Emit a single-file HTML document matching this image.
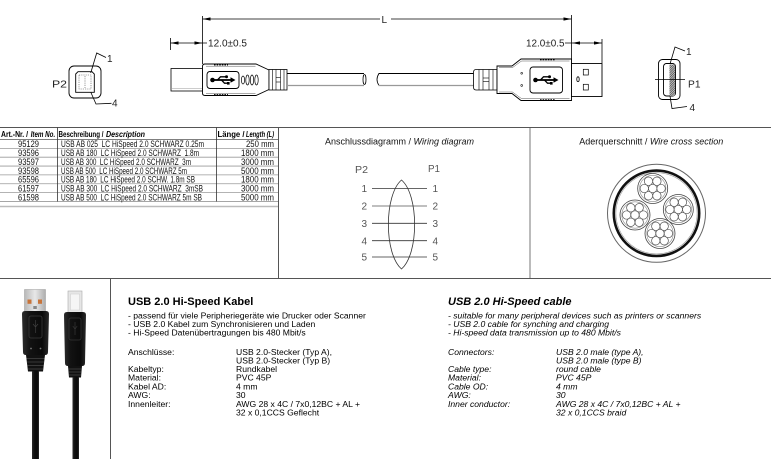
<!DOCTYPE html>
<html><head><meta charset="utf-8"><title>USB 2.0 Hi-Speed Kabel</title>
<style>
html,body{margin:0;padding:0;background:#fff;width:771px;height:459px;overflow:hidden}
svg{display:block}
text{font-family:"Liberation Sans",Arial,sans-serif;white-space:pre}
.b{font-weight:bold}
.i{font-style:italic}
</style></head><body>
<svg xmlns="http://www.w3.org/2000/svg" width="771" height="459" viewBox="0 0 771 459">
<defs>
 <g id="usb">
  <rect x="-9" y="-0.9" width="18" height="1.8"/>
  <circle cx="-10" cy="0" r="2.3"/>
  <path d="M13,0 L8,-2.8 L8,2.8Z"/>
  <path d="M-5,0 L-2,-3.2 L3,-3.2" fill="none" stroke="#000" stroke-width="1.3"/>
  <circle cx="4" cy="-3.2" r="1.5"/>
  <path d="M-1,0 L2,3.2 L5,3.2" fill="none" stroke="#000" stroke-width="1.3"/>
  <rect x="4.5" y="2" width="2.6" height="2.6"/>
 </g>
 <g id="bundle">
  <circle r="15" fill="#fff" stroke="#444" stroke-width="0.8"/>
  <circle r="13.2" fill="none" stroke="#888" stroke-width="0.6"/>
  <g fill="#fff" stroke="#555" stroke-width="0.7">
   <circle cx="0" cy="0" r="4.2"/>
   <circle cx="8.4" cy="0" r="4.2"/>
   <circle cx="-8.4" cy="0" r="4.2"/>
   <circle cx="4.2" cy="7.27" r="4.2"/>
   <circle cx="-4.2" cy="7.27" r="4.2"/>
   <circle cx="4.2" cy="-7.27" r="4.2"/>
   <circle cx="-4.2" cy="-7.27" r="4.2"/>
  </g>
 </g>
 <pattern id="hatch" width="1.6" height="1.6" patternUnits="userSpaceOnUse" patternTransform="rotate(45)">
  <rect width="1.6" height="1.6" fill="#bbb"/>
  <line x1="0" y1="0" x2="0" y2="1.6" stroke="#222" stroke-width="0.9"/>
 </pattern>
 <linearGradient id="blk" x1="0" x2="1" y1="0" y2="0">
  <stop offset="0" stop-color="#2c2c2c"/><stop offset="0.3" stop-color="#121212"/>
  <stop offset="0.75" stop-color="#0a0a0a"/><stop offset="1" stop-color="#2a2a2a"/>
 </linearGradient>
 <linearGradient id="met" x1="0" x2="1" y1="0" y2="0">
  <stop offset="0" stop-color="#b8b8b8"/><stop offset="0.5" stop-color="#e8e8e8"/><stop offset="1" stop-color="#aeaeae"/>
 </linearGradient>
</defs>

<!-- ===== Top technical drawing ===== -->
<g stroke="#000" stroke-width="0.8" fill="none">
 <line x1="202.5" y1="16" x2="202.5" y2="64"/>
 <line x1="571.5" y1="15" x2="571.5" y2="63"/>
 <line x1="202.5" y1="19" x2="380" y2="19"/>
 <line x1="391" y1="19" x2="571.5" y2="19"/>
 <line x1="170.5" y1="38" x2="170.5" y2="50"/>
 <line x1="170.5" y1="43" x2="207" y2="43"/>
 <line x1="565" y1="43" x2="602" y2="43"/>
 <line x1="602" y1="39" x2="602" y2="63"/>
</g>
<g fill="#000">
 <path d="M202.5,19 l8,-1.6 v3.2z"/>
 <path d="M571.5,19 l-8,-1.6 v3.2z"/>
 <path d="M170.5,43 l8,-1.6 v3.2z"/>
 <path d="M202.5,43 l-8,-1.6 v3.2z"/>
 <path d="M572,43 l8,-1.6 v3.2z"/>
 <path d="M602,43 l-8,-1.6 v3.2z"/>
</g>
<g fill="#222">
 <text x="208" y="46.5" font-size="10" textLength="39" lengthAdjust="spacingAndGlyphs">12.0±0.5</text>
 <text x="526" y="46.5" font-size="10" textLength="38.5" lengthAdjust="spacingAndGlyphs">12.0±0.5</text>
 <text x="381.5" y="23" font-size="10">L</text>
 <text x="52" y="87.5" font-size="10" textLength="15" lengthAdjust="spacingAndGlyphs">P2</text>
 <text x="107" y="62" font-size="10">1</text>
 <text x="112" y="106.5" font-size="10">4</text>
 <text x="688" y="87.5" font-size="10" textLength="12.5" lengthAdjust="spacingAndGlyphs">P1</text>
 <text x="686" y="55" font-size="10">1</text>
 <text x="689.5" y="111" font-size="10">4</text>
</g>

<!-- P2 face -->
<g fill="none" stroke="#000" stroke-width="0.9">
 <rect x="69" y="66" width="32" height="32" rx="5" fill="#fff"/>
 <path d="M75.7,74 L78,71.7 L92,71.7 L94.3,74 L94.3,92.3 L75.7,92.3 Z"/>
 <rect x="79" y="75" width="12" height="14" stroke="#555" stroke-width="0.6" stroke-dasharray="1.2,1"/>
 <line x1="85" y1="76" x2="85" y2="88" stroke="#555" stroke-width="0.6" stroke-dasharray="1.2,1"/>
 <polyline points="90.7,73 96.7,53 106,57.5" stroke-width="0.8"/>
 <polyline points="90.7,92 96,104 111.5,103.3" stroke-width="0.8"/>
</g>

<!-- Left B connector -->
<rect x="171" y="68.5" width="31.5" height="22.5" fill="#fff" stroke="#000" stroke-width="0.8"/>
<line x1="171" y1="88.5" x2="202" y2="88.5" stroke="#999" stroke-width="0.6"/>
<path d="M202.5,66.5 Q202.5,64 205,64 L256,64 L269,70 L269,89.5 L256,95.5 L205,95.5 Q202.5,95.5 202.5,93 Z" fill="#fff" stroke="#000" stroke-width="0.9"/>
<path d="M206,66.2 L255.5,66.2 M206,93.3 L255.5,93.3" stroke="#555" stroke-width="0.5" fill="none"/>
<path d="M214,65 h14 M214,94.6 h14" stroke="#000" stroke-width="0.9" stroke-dasharray="1.6,1"/>
<rect x="207" y="71.5" width="32" height="17" rx="3" fill="#fff" stroke="#000" stroke-width="0.9"/>
<use href="#usb" transform="translate(222.5,80)"/>
<g fill="#fff" stroke="#000" stroke-width="0.7">
 <ellipse cx="243" cy="80" rx="1.6" ry="4"/>
 <ellipse cx="247.5" cy="80" rx="1.7" ry="5"/>
 <ellipse cx="252" cy="80" rx="1.7" ry="5"/>
 <ellipse cx="256.5" cy="80" rx="1.7" ry="5"/>
</g>
<rect x="269" y="69.5" width="18" height="20.5" fill="#fff" stroke="#000" stroke-width="0.8"/>
<g stroke="#000" stroke-width="0.6">
 <line x1="272.5" y1="69.5" x2="272.5" y2="90"/>
 <line x1="276" y1="69.5" x2="276" y2="90"/>
 <line x1="280.5" y1="69.5" x2="280.5" y2="90"/>
 <line x1="284" y1="69.5" x2="284" y2="90"/>
 <line x1="276" y1="77.5" x2="280.5" y2="77.5"/>
 <line x1="276" y1="82" x2="280.5" y2="82"/>
</g>
<line x1="287" y1="73.5" x2="364" y2="73.5" stroke="#000" stroke-width="0.9"/>
<line x1="287" y1="85.5" x2="364" y2="85.5" stroke="#999" stroke-width="1.3"/>
<ellipse cx="364.5" cy="79.5" rx="1.5" ry="5" fill="none" stroke="#000" stroke-width="0.8"/>
<path d="M379,73.5 Q375,79.5 379,85.5" fill="none" stroke="#000" stroke-width="0.8"/>
<line x1="378.5" y1="73.5" x2="473.5" y2="73.5" stroke="#000" stroke-width="0.9"/>
<line x1="378.5" y1="85.5" x2="473.5" y2="85.5" stroke="#999" stroke-width="1.3"/>

<!-- Right A connector -->
<path d="M476,69.5 L497,69.5 L497,90 L476,90 Q473.5,90 473.5,87 L473.5,72.5 Q473.5,69.5 476,69.5Z" fill="#fff" stroke="#000" stroke-width="0.8"/>
<g stroke="#000" stroke-width="0.6">
 <line x1="479" y1="69.5" x2="479" y2="90"/>
 <line x1="483" y1="69.5" x2="483" y2="90"/>
 <line x1="489" y1="69.5" x2="489" y2="90"/>
 <line x1="493" y1="69.5" x2="493" y2="90"/>
 <line x1="483" y1="78" x2="489" y2="78"/>
 <line x1="483" y1="81.5" x2="489" y2="81.5"/>
</g>
<path d="M497,66 L512,66 L521,59 L571.5,59 L571.5,100.5 L521,100.5 L512,93.5 L497,93.5 Z" fill="#fff" stroke="#000" stroke-width="0.9"/>
<path d="M499,67.6 L512.5,67.6 L521.5,61 L569.5,61 M499,92 L512.5,92 L521.5,98.6 L569.5,98.6" stroke="#555" stroke-width="0.5" fill="none"/>
<path d="M540,59.8 h15 M540,99.7 h15" stroke="#000" stroke-width="0.9" stroke-dasharray="1.6,1"/>
<circle cx="521.7" cy="73.3" r="0.9" fill="none" stroke="#000" stroke-width="0.6"/>
<circle cx="521.7" cy="85.5" r="0.9" fill="none" stroke="#000" stroke-width="0.6"/>
<rect x="530" y="67" width="32.5" height="26" rx="3" fill="#fff" stroke="#000" stroke-width="0.9"/>
<use href="#usb" transform="translate(545.5,80)"/>
<rect x="571.5" y="63.5" width="30.5" height="33" fill="#fff" stroke="#000" stroke-width="0.9"/>
<rect x="583.3" y="69.3" width="5" height="5.7" fill="#fff" stroke="#000" stroke-width="0.7"/>
<rect x="583.3" y="84.3" width="5" height="5.7" fill="#fff" stroke="#000" stroke-width="0.7"/>
<ellipse cx="578" cy="79.2" rx="1.2" ry="2.4" fill="#fff" stroke="#000" stroke-width="0.8"/>

<!-- P1 face -->
<rect x="658.5" y="59.5" width="21.5" height="40" rx="4" fill="#fff" stroke="#000" stroke-width="0.9"/>
<rect x="663.5" y="63.5" width="12" height="32.5" rx="3" fill="#fff" stroke="#000" stroke-width="0.9"/>
<rect x="669.5" y="64.5" width="5.5" height="31.5" fill="url(#hatch)"/>
<g stroke="#000" stroke-width="0.8" fill="none">
 <line x1="655" y1="79.5" x2="685" y2="79.5"/>
 <polyline points="670,64 675,47 685,51"/>
 <polyline points="670,96 672,108.5 687,106.5"/>
</g>

<!-- ===== Section frame lines ===== -->
<g stroke="#555" stroke-width="1">
 <line x1="0" y1="127.5" x2="771" y2="127.5"/>
 <line x1="0" y1="278.5" x2="771" y2="278.5"/>
 <line x1="278.5" y1="127.5" x2="278.5" y2="278.5"/>
 <line x1="110.5" y1="278.5" x2="110.5" y2="459"/>
</g>
<line x1="530" y1="128" x2="530" y2="278" stroke="#bbb" stroke-width="2"/>

<!-- ===== Table ===== -->
<g stroke="#9a9a9a" stroke-width="0.8">
 <line x1="0" y1="139.5" x2="278" y2="139.5" stroke="#555"/>
 <line x1="0" y1="148.35" x2="278" y2="148.35"/>
 <line x1="0" y1="157.2" x2="278" y2="157.2"/>
 <line x1="0" y1="166.05" x2="278" y2="166.05"/>
 <line x1="0" y1="174.9" x2="278" y2="174.9"/>
 <line x1="0" y1="183.75" x2="278" y2="183.75"/>
 <line x1="0" y1="192.6" x2="278" y2="192.6"/>
 <line x1="0" y1="201.45" x2="278" y2="201.45"/>
 <line x1="0" y1="206.5" x2="278" y2="206.5" stroke="#bbb" stroke-width="1.5"/>
</g>
<g stroke="#333" stroke-width="0.8">
 <line x1="57.5" y1="127.5" x2="57.5" y2="201.5"/>
 <line x1="216.5" y1="127.5" x2="216.5" y2="201.5"/>
</g>
<g fill="#000" font-size="8" class="b">
 <text x="1" y="137" textLength="27" lengthAdjust="spacingAndGlyphs">Art.-Nr. /</text>
 <text x="30.7" y="137" class="i" textLength="24.5" lengthAdjust="spacingAndGlyphs">Item No.</text>
 <text x="58.5" y="137" textLength="45" lengthAdjust="spacingAndGlyphs">Beschreibung /</text>
 <text x="106" y="137" class="i" textLength="39" lengthAdjust="spacingAndGlyphs">Description</text>
 <text x="217.5" y="137" textLength="27" lengthAdjust="spacingAndGlyphs">Länge /</text>
 <text x="246" y="137" class="i" textLength="28" lengthAdjust="spacingAndGlyphs">Length (L)</text>
</g>
<g fill="#111" font-size="8.8">
 <text x="18" y="147.2" textLength="21" lengthAdjust="spacingAndGlyphs">95129</text>
 <text x="18" y="156.05" textLength="21" lengthAdjust="spacingAndGlyphs">93596</text>
 <text x="18" y="164.9" textLength="21" lengthAdjust="spacingAndGlyphs">93597</text>
 <text x="18" y="173.75" textLength="21" lengthAdjust="spacingAndGlyphs">93598</text>
 <text x="18" y="182.6" textLength="21" lengthAdjust="spacingAndGlyphs">65596</text>
 <text x="18" y="191.45" textLength="21" lengthAdjust="spacingAndGlyphs">61597</text>
 <text x="18" y="200.3" textLength="21" lengthAdjust="spacingAndGlyphs">61598</text>

 <text x="61" y="147.2" textLength="143" lengthAdjust="spacingAndGlyphs">USB AB 025  LC HiSpeed 2.0 SCHWARZ 0.25m</text>
 <text x="61" y="156.05" textLength="138" lengthAdjust="spacingAndGlyphs">USB AB 180  LC HiSpeed 2.0 SCHWARZ  1.8m</text>
 <text x="61" y="164.9" textLength="130" lengthAdjust="spacingAndGlyphs">USB AB 300  LC HiSpeed 2.0 SCHWARZ  3m</text>
 <text x="61" y="173.75" textLength="126" lengthAdjust="spacingAndGlyphs">USB AB 500  LC HiSpeed 2.0 SCHWARZ 5m</text>
 <text x="61" y="182.6" textLength="134" lengthAdjust="spacingAndGlyphs">USB AB 180  LC HiSpeed 2.0 SCHW. 1.8m SB</text>
 <text x="61" y="191.45" textLength="142" lengthAdjust="spacingAndGlyphs">USB AB 300  LC HiSpeed 2.0 SCHWARZ  3mSB</text>
 <text x="61" y="200.3" textLength="141" lengthAdjust="spacingAndGlyphs">USB AB 500  LC HiSpeed 2.0 SCHWARZ 5m SB</text>

 <text x="246" y="147.2" textLength="28" lengthAdjust="spacingAndGlyphs">250 mm</text>
 <text x="241" y="156.05" textLength="33" lengthAdjust="spacingAndGlyphs">1800 mm</text>
 <text x="241" y="164.9" textLength="33" lengthAdjust="spacingAndGlyphs">3000 mm</text>
 <text x="241" y="173.75" textLength="33" lengthAdjust="spacingAndGlyphs">5000 mm</text>
 <text x="241" y="182.6" textLength="33" lengthAdjust="spacingAndGlyphs">1800 mm</text>
 <text x="241" y="191.45" textLength="33" lengthAdjust="spacingAndGlyphs">3000 mm</text>
 <text x="241" y="200.3" textLength="33" lengthAdjust="spacingAndGlyphs">5000 mm</text>
</g>

<!-- ===== Wiring diagram ===== -->
<text x="325" y="144.3" font-size="9" fill="#111">Anschlussdiagramm / <tspan class="i">Wiring diagram</tspan></text>
<g fill="#555" font-size="10">
 <text x="355" y="173" textLength="13" lengthAdjust="spacingAndGlyphs">P2</text>
 <text x="428" y="172" textLength="12" lengthAdjust="spacingAndGlyphs">P1</text>
 <text x="361.5" y="192">1</text><text x="432.5" y="192">1</text>
 <text x="361.5" y="209.5">2</text><text x="432.5" y="209.5">2</text>
 <text x="361.5" y="227">3</text><text x="432.5" y="227">3</text>
 <text x="361.5" y="244.3">4</text><text x="432.5" y="244.3">4</text>
 <text x="361.5" y="260.5">5</text><text x="432.5" y="260.5">5</text>
</g>
<g stroke="#333" stroke-width="0.8">
 <line x1="372" y1="188.5" x2="427" y2="188.5"/>
 <line x1="372" y1="206" x2="427" y2="206" stroke="#aaa" stroke-width="1.5"/>
 <line x1="372" y1="223.3" x2="427" y2="223.3"/>
 <line x1="372" y1="240.7" x2="427" y2="240.7"/>
 <line x1="372" y1="257" x2="427" y2="257"/>
</g>
<path d="M401.5,180 C384,195 384,254 401.5,269 C419,254 419,195 401.5,180 Z" fill="none" stroke="#333" stroke-width="0.8"/>

<!-- ===== Wire cross section ===== -->
<text x="579.3" y="144.3" font-size="9" fill="#111">Aderquerschnitt / <tspan class="i">Wire cross section</tspan></text>
<circle cx="656.5" cy="213.3" r="49" fill="#fff" stroke="#666" stroke-width="1"/>
<circle cx="656.5" cy="213.3" r="42.7" fill="none" stroke="#111" stroke-width="2.6"/>
<circle cx="656.5" cy="213.3" r="40.6" fill="none" stroke="#999" stroke-width="0.6"/>
<use href="#bundle" transform="translate(652.7,188.5)"/>
<use href="#bundle" transform="translate(635,215)"/>
<use href="#bundle" transform="translate(678.3,209.5)"/>
<use href="#bundle" transform="translate(660,233.5)"/>

<!-- ===== Product photo (drawn) ===== -->
<rect x="24.5" y="289.5" width="21" height="22" fill="url(#met)" stroke="#999" stroke-width="0.5"/>
<rect x="27.5" y="299.5" width="4" height="4.3" fill="#c8743a"/>
<rect x="38" y="299.5" width="4" height="4.3" fill="#c8743a"/>
<rect x="33.3" y="306" width="3.5" height="3" fill="#888"/>
<path d="M22,314 Q22,311 25,311 L46,311 Q49,311 49,314 L48,352 Q48,355 45,355 L26,355 Q23,355 23,352 Z" fill="url(#blk)"/>
<rect x="29" y="316" width="13" height="22" rx="2" fill="none" stroke="#3a3a3a" stroke-width="0.8"/>
<path d="M35.5,320 v13 M33,324 l2.5,3 l2.5,-3" fill="none" stroke="#444" stroke-width="0.6"/>
<circle cx="31" cy="348.5" r="0.9" fill="#777"/>
<circle cx="40.5" cy="348.5" r="0.9" fill="#777"/>
<path d="M26,355 L45,355 L43,371.5 L28,371.5 Z" fill="#111"/>
<g stroke="#444" stroke-width="0.8">
 <line x1="26.5" y1="358.5" x2="44.5" y2="358.5"/>
 <line x1="27" y1="362" x2="44" y2="362"/>
 <line x1="27.5" y1="365.5" x2="43.5" y2="365.5"/>
 <line x1="28" y1="369" x2="43" y2="369"/>
</g>
<rect x="32" y="371" width="7" height="88" fill="url(#blk)"/>
<rect x="68" y="291" width="14" height="22" fill="#e6e6e6" stroke="#aaa" stroke-width="0.6"/>
<rect x="70.5" y="294" width="9" height="16" fill="#f5f5f5" stroke="#ccc" stroke-width="0.5"/>
<path d="M64,315 Q64,312 67,312 L83,312 Q86,312 86,315 L85,363 Q85,366 82,366 L68,366 Q65,366 65,363 Z" fill="url(#blk)"/>
<rect x="69" y="318" width="12" height="22" rx="2" fill="none" stroke="#333" stroke-width="0.8"/>
<path d="M75,322 v13 M72.8,326 l2.2,3 l2.2,-3" fill="none" stroke="#3c3c3c" stroke-width="0.6"/>
<path d="M68,366 L82,366 L81,377.5 L69,377.5 Z" fill="#111"/>
<g stroke="#444" stroke-width="0.8">
 <line x1="68.5" y1="369" x2="81.5" y2="369"/>
 <line x1="68.8" y1="372" x2="81.2" y2="372"/>
 <line x1="69" y1="375" x2="81" y2="375"/>
</g>
<rect x="72.5" y="377" width="6.5" height="82" fill="url(#blk)"/>

<!-- ===== German text block ===== -->
<g fill="#000">
 <text x="128" y="305" font-size="11" class="b">USB 2.0 Hi-Speed Kabel</text>
 <g font-size="8.6">
  <text x="128" y="318.3">- passend für viele Peripheriegeräte wie Drucker oder Scanner</text>
  <text x="128" y="327">- USB 2.0 Kabel zum Synchronisieren und Laden</text>
  <text x="128" y="335.7">- Hi-Speed Datenübertragungen bis 480 Mbit/s</text>

  <text x="128" y="355">Anschlüsse:</text>
  <text x="128" y="372">Kabeltyp:</text>
  <text x="128" y="380.6">Material:</text>
  <text x="128" y="389.3">Kabel AD:</text>
  <text x="128" y="398">AWG:</text>
  <text x="128" y="406.8">Innenleiter:</text>

  <text x="236" y="355">USB 2.0-Stecker (Typ A),</text>
  <text x="236" y="363.5">USB 2.0-Stecker (Typ B)</text>
  <text x="236" y="372">Rundkabel</text>
  <text x="236" y="380.6">PVC 45P</text>
  <text x="236" y="389.3">4 mm</text>
  <text x="236" y="398">30</text>
  <text x="236" y="406.8">AWG 28 x 4C / 7x0,12BC + AL +</text>
  <text x="236" y="415.5">32 x 0,1CCS Geflecht</text>
 </g>
</g>

<!-- ===== English text block ===== -->
<g fill="#000" class="i">
 <text x="448" y="305" font-size="11" class="b">USB 2.0 Hi-Speed cable</text>
 <g font-size="8.6">
  <text x="448" y="318.3">- suitable for many peripheral devices such as printers or scanners</text>
  <text x="448" y="327">- USB 2.0 cable for synching and charging</text>
  <text x="448" y="335.7">- Hi-speed data transmission up to 480 Mbit/s</text>

  <text x="448" y="355">Connectors:</text>
  <text x="448" y="372">Cable type:</text>
  <text x="448" y="380.6">Material:</text>
  <text x="448" y="389.3">Cable OD:</text>
  <text x="448" y="398">AWG:</text>
  <text x="448" y="406.8">Inner conductor:</text>

  <text x="556" y="355">USB 2.0 male (type A),</text>
  <text x="556" y="363.5">USB 2.0 male (type B)</text>
  <text x="556" y="372">round cable</text>
  <text x="556" y="380.6">PVC 45P</text>
  <text x="556" y="389.3">4 mm</text>
  <text x="556" y="398">30</text>
  <text x="556" y="406.8">AWG 28 x 4C / 7x0,12BC + AL +</text>
  <text x="556" y="415.5">32 x 0,1CCS braid</text>
 </g>
</g>
</svg>
</body></html>
